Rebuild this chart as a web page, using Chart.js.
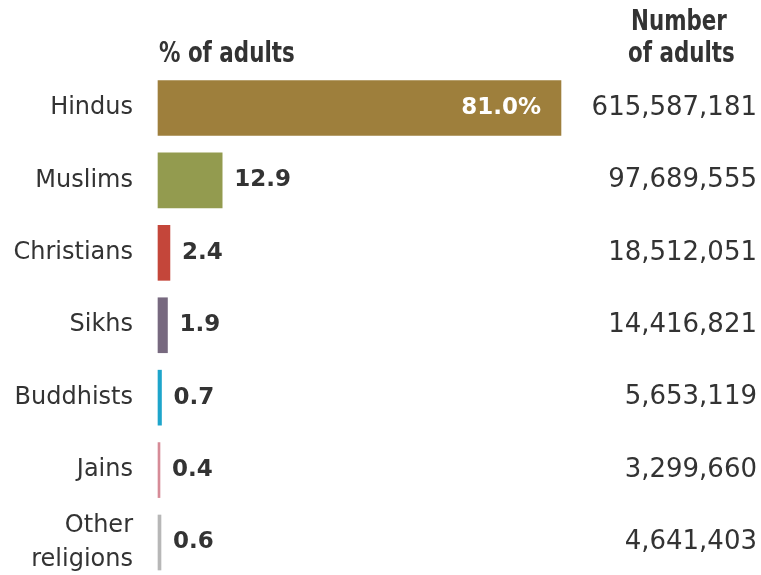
<!DOCTYPE html>
<html>
<head>
<meta charset="utf-8">
<script src="https://cdn.jsdelivr.net/npm/chart.js@4"></script>
<style>
  html, body { margin: 0; padding: 0; background: #fff; }
  canvas { display: block; }
</style>
</head>
<body>
<canvas id="religionChart" width="761" height="575"></canvas>
<script>
// data
var categories = ['Hindus', 'Muslims', 'Christians', 'Sikhs', 'Buddhists', 'Jains', ['Other', 'religions']];
var shares = [81.0, 12.9, 2.4, 1.9, 0.7, 0.4, 0.6];
var shareLabels = ['81.0%', '12.9', '2.4', '1.9', '0.7', '0.4', '0.6'];
var adultCounts = ['615,587,181', '97,689,555', '18,512,051', '14,416,821', '5,653,119', '3,299,660', '4,641,403'];
var barColors = ['#9e7f3c', '#939b4f', '#c4463a', '#77697f', '#1ea5cb', '#d68b97', '#b7b7b7'];

var textColor = '#333333';

// condensed header text: squeeze horizontally
function drawNarrow(ctx, text, x, y) {
    var sx = 0.85;
    ctx.save();
    ctx.scale(sx, 1);
    ctx.fillText(text, x / sx, y);
    ctx.restore();
}

// draws value labels, the number column and the headers
var overlayText = {
    id: 'overlayText',
    afterDatasetsDraw: function (chart) {
        var ctx = chart.ctx;
        var bars = chart.getDatasetMeta(0).data;
        ctx.save();
        ctx.textBaseline = 'middle';

        bars.forEach(function (bar, i) {
            ctx.font = 'bold 23px "DejaVu Sans"';
            if (i === 0) {
                ctx.fillStyle = '#ffffff';
                ctx.textAlign = 'right';
                ctx.fillText(shareLabels[i], bar.x - 20, bar.y);
            } else {
                ctx.fillStyle = textColor;
                ctx.textAlign = 'left';
                ctx.fillText(shareLabels[i], bar.x + 12, bar.y);
            }
            ctx.font = '26px "DejaVu Sans"';
            ctx.fillStyle = textColor;
            ctx.textAlign = 'right';
            ctx.fillText(adultCounts[i], 757, bar.y);
        });

        ctx.textBaseline = 'alphabetic';
        ctx.textAlign = 'left';
        ctx.fillStyle = textColor;
        ctx.font = 'bold 28px "Liberation Sans Narrow", "DejaVu Sans Condensed", sans-serif';
        drawNarrow(ctx, '% of adults', chart.chartArea.left + 1, 62);
        drawNarrow(ctx, 'Number', 631, 30);
        drawNarrow(ctx, 'of adults', 628, 62);
        ctx.restore();
    }
};

document.addEventListener("DOMContentLoaded", function () {
    var el = document.getElementById("religionChart");
    new Chart(el, {
        type: 'bar',
        data: {
            labels: categories,
            datasets: [{
                data: shares,
                backgroundColor: barColors,
                borderWidth: 0,
                barThickness: 55,
                clip: false
            }]
        },
        options: {
            indexAxis: 'y',
            responsive: false,
            animation: false,
            layout: {
                padding: { left: 0, right: 105.5, top: 108, bottom: 32.5 }
            },
            plugins: {
                legend: { display: false },
                tooltip: { enabled: false }
            },
            scales: {
                x: {
                    display: false,
                    min: 0,
                    max: 100
                },
                y: {
                    offset: false,
                    grid: { display: false, drawTicks: false },
                    border: { display: false },
                    ticks: {
                        padding: 25,
                        color: textColor,
                        font: { family: '"DejaVu Sans"', size: 24, lineHeight: 1.4 }
                    },
                    afterFit: function (scale) {
                        scale.width = 158;
                        scale.paddingTop = 0;
                        scale.paddingBottom = 0;
                    }
                }
            }
        },
        plugins: [overlayText]
    });
});
</script>
</body>
</html>
